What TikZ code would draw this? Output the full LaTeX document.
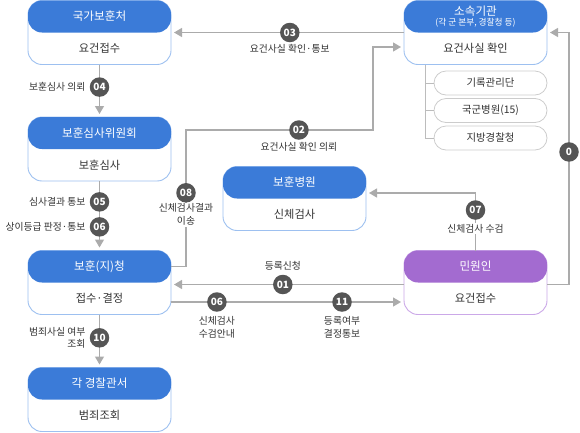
\documentclass[tikz,border=0pt]{standalone}
\usepackage{fontspec}
\setmainfont{Noto Sans CJK KR}
\usetikzlibrary{positioning}
\usetikzlibrary{arrows.meta}
\definecolor{mpva-blue}{HTML}{3B7BD8}
\definecolor{mpva-line}{HTML}{9DC0F0}
\definecolor{civ-purple}{HTML}{A36BD0}
\definecolor{civ-line}{HTML}{CBA8E8}
\definecolor{flow-gray}{HTML}{ABABAB}
\definecolor{num-gray}{HTML}{555555}
\definecolor{sub-line}{HTML}{CCCCCC}
\definecolor{txt}{HTML}{333333}
\tikzset{
  card/.style={
    draw=#1,
    fill=white,
    rounded corners=14pt,
    line width=0.9pt,
    minimum width=143pt,
    minimum height=64pt,
    inner sep=0pt,
    outer sep=0pt},
  cardhead/.style={
    fill=#1,
    rounded corners=14pt,
    text=white,
    font=\fontsize{11.6}{13}\selectfont,
    minimum width=143pt,
    minimum height=32pt,
    inner sep=0pt,
    outer sep=0pt,
    align=center},
  cardbody/.style={
    text=txt,
    font=\fontsize{11.2}{12}\selectfont,
    minimum width=143pt,
    minimum height=32pt,
    inner sep=0pt,
    outer sep=0pt},
  sub/.style={
    draw=sub-line,
    line width=0.8pt,
    rounded corners=12pt,
    minimum width=113pt,
    minimum height=24pt,
    inner sep=0pt,
    text=txt,
    font=\fontsize{10.4}{12}\selectfont},
}

\begin{document}
\begin{tikzpicture}[
  x=1pt, y=-1pt,
  flow/.style={draw=flow-gray,line width=1.3pt,-{Triangle[length=8pt,width=9pt]},shorten >=3pt},
  link/.style={draw=flow-gray!80,line width=1pt},
  num/.style={circle,fill=num-gray,text=white,minimum size=19.5pt,inner sep=0pt,font=\fontsize{10}{11}\selectfont\bfseries},
  lbl/.style={text=txt,font=\fontsize{9.8}{13}\selectfont,inner sep=1pt,fill=white,align=center}]
  \useasboundingbox (0,0) rectangle (580,432);

  % cards
  \foreach \n/\x/\y/\hc/\bc/\hname/\bname in {
    nva/99.5/32.5/mpva-blue/mpva-line/국가보훈처/요건접수,
    rev/99.5/149/mpva-blue/mpva-line/보훈심사위원회/보훈심사,
    bo/99.5/282.5/mpva-blue/mpva-line/보훈(지)청/접수·결정,
    pol/99.5/399.5/mpva-blue/mpva-line/각 경찰관서/범죄조회,
    org/475.5/32.5/mpva-blue/mpva-line/{소속기관\\[-3.5pt]{\fontsize{8.7}{9}\selectfont(각 군 본부, 경찰청 등)}}/요건사실 확인,
    hosp/294.5/198.5/mpva-blue/mpva-line/보훈병원/신체검사,
    civ/475.5/282.5/civ-purple/civ-line/민원인/요건접수} {
    \node[card=\bc] (\n) at (\x,\y) {};
    \node[cardhead=\hc, anchor=north] (\n-h) at (\n.north) {\hname};
    \node[cardbody, anchor=south] (\n-b) at (\n.south) {\bname};
  }

  % sub units
  \foreach \n/\y/\t in {rec/83/기록관리단, mil/110.5/국군병원(15), reg/138/지방경찰청}
    \node[sub] (\n) at (490.5,\y) {\t};
  \coordinate (trunk) at ([xshift=21pt]org.south west);
  \draw[link] (trunk) |- (reg.west);
  \draw[link] (trunk |- rec.west) -- (rec.west);
  \draw[link] (trunk |- mil.west) -- (mil.west);

  % connectors
  \draw[flow] (org.west) -- node[num, pos=0.49, label={[lbl,label distance=0pt]below:요건사실 확인·통보}] (n03) {03} (nva.east);
  \draw[flow] (nva.south) -- node[num, pos=0.43, label={[lbl,label distance=2pt]left:보훈심사 의뢰}] (n04) {04} (rev.north);
  \draw[flow] (rev.south) -- node[num, pos=0.30, label={[lbl,label distance=2pt]left:심사결과 통보}] (n05) {05}
    node[num, pos=0.66, label={[lbl,label distance=2pt]left:상이등급 판정·통보}] (n06a) {06} (bo.north);
  \draw[flow] (bo.south) -- node[num, pos=0.44, label={[lbl,label distance=2pt,align=right,font=\fontsize{9.8}{12}\selectfont]left:범죄사실 여부\\조회}] (n10) {10} (pol.north);
  \draw[flow] ([yshift=-16pt]bo.north east) -| node[num, pos=0.77, label={[lbl,label distance=-1pt]below:신체검사결과\\이송}] (n08) {08} (186,130)
    -| node[num, pos=0.302, label={[lbl,label distance=0pt]below:요건사실 확인 의뢰}] (n02) {02} (373,47) -- ([yshift=-14.5pt]org.west);
  \draw[flow] (civ.north) |- node[num, pos=0.352, label={[lbl,label distance=2pt]below:신체검사 수검}] (n07) {07} ([yshift=5.5pt]hosp.east);
  \draw[flow] ([yshift=-2pt]civ.west) -- node[num, pos=0.52, label={[lbl,label distance=2pt]above:등록신청}] (n01) {01} ([yshift=-2pt]bo.east);
  \draw[flow] ([yshift=12.5pt]bo.south east) -- node[num, pos=0.197, label={[lbl,label distance=2pt]below:신체검사\\수검안내}] (n06b) {06}
    node[num, pos=0.734, label={[lbl,label distance=2pt]below:등록여부\\결정통보}] (n11) {11} ([yshift=12.5pt]civ.south west);
  \draw[flow] ([yshift=-2pt]civ.east) -- ++(22,0) |- node[num, pos=0.263] (n09) {0} (org.east);
\end{tikzpicture}
\end{document}
